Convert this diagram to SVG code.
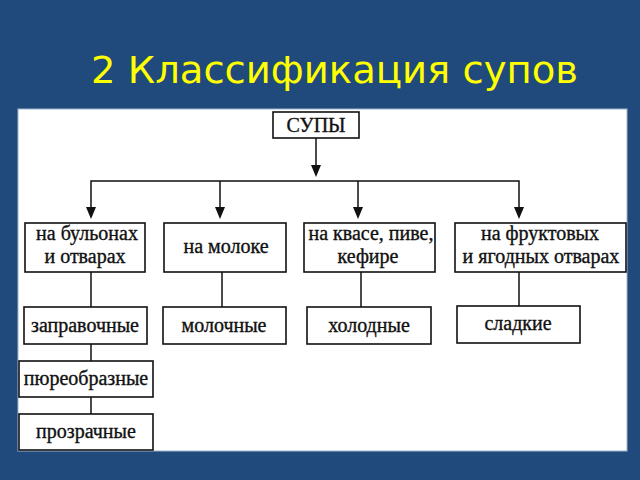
<svg xmlns="http://www.w3.org/2000/svg" width="640" height="480" viewBox="0 0 640 480">
<defs>
<style>
.box{fill:#fff;stroke:#111;stroke-width:1.6}
.t{font-family:"Liberation Serif","Times New Roman",serif;font-size:20px;fill:#111;stroke:#111;stroke-width:0.35;text-anchor:middle}
.c{fill:none;stroke:#111;stroke-width:1.5}
</style>
</defs>
<rect width="640" height="480" fill="#204a7c"/>
<text x="91" y="83" font-family="DejaVu Sans, sans-serif" font-size="38" fill="#ffff00" textLength="487" lengthAdjust="spacingAndGlyphs">2 Классификация супов</text>
<rect x="18" y="109" width="609" height="342" fill="#fff" stroke="#9fb4cc" stroke-width="1"/>
<g id="connectors">
<path class="c" d="M316,138 V165"/>
<path d="M311,165 L321,165 L316,177 Z" fill="#111"/>
<path class="c" d="M91,207 V181 H519 V207"/>
<path class="c" d="M220,181 V207 M358,181 V207"/>
<path d="M86,207 L96,207 L91,219 Z M215,207 L225,207 L220,219 Z M353,207 L363,207 L358,219 Z M514,207 L524,207 L519,219 Z" fill="#111"/>
<path class="c" d="M91,272 V307 M222,272 V307 M361,272 V307 M519,272 V306 M91,344 V361 M91,397 V414"/>
</g>
<g id="n-supy"><rect class="box" x="273" y="112" width="86" height="26"/><text class="t" x="316" y="132">СУПЫ</text></g>
<g id="n-bulon"><rect class="box" x="25" y="223" width="120" height="49"/><text class="t" x="87" y="240">на бульонах</text><text class="t" x="85" y="263">и отварах</text></g>
<g id="n-moloko"><rect class="box" x="164" y="223" width="122" height="49"/><text class="t" x="226" y="253">на молоке</text></g>
<g id="n-kvas"><rect class="box" x="304" y="223" width="131" height="49"/><text class="t" x="371" y="240">на квасе, пиве,</text><text class="t" x="368" y="263">кефире</text></g>
<g id="n-frukt"><rect class="box" x="455" y="223" width="171" height="49"/><text class="t" x="540" y="240">на фруктовых</text><text class="t" x="541" y="263">и ягодных отварах</text></g>
<g id="n-zaprav"><rect class="box" x="24" y="307" width="123" height="37"/><text class="t" x="85" y="332">заправочные</text></g>
<g id="n-moloch"><rect class="box" x="163" y="307" width="123" height="37"/><text class="t" x="224" y="332">молочные</text></g>
<g id="n-holod"><rect class="box" x="307" y="307" width="124" height="37"/><text class="t" x="369" y="332">холодные</text></g>
<g id="n-sladk"><rect class="box" x="457" y="306" width="123" height="37"/><text class="t" x="518" y="330">сладкие</text></g>
<g id="n-pure"><rect class="box" x="19" y="361" width="134" height="36"/><text class="t" x="86" y="385">пюреобразные</text></g>
<g id="n-prozr"><rect class="box" x="19" y="414" width="134" height="36"/><text class="t" x="86" y="438">прозрачные</text></g>
</svg>
